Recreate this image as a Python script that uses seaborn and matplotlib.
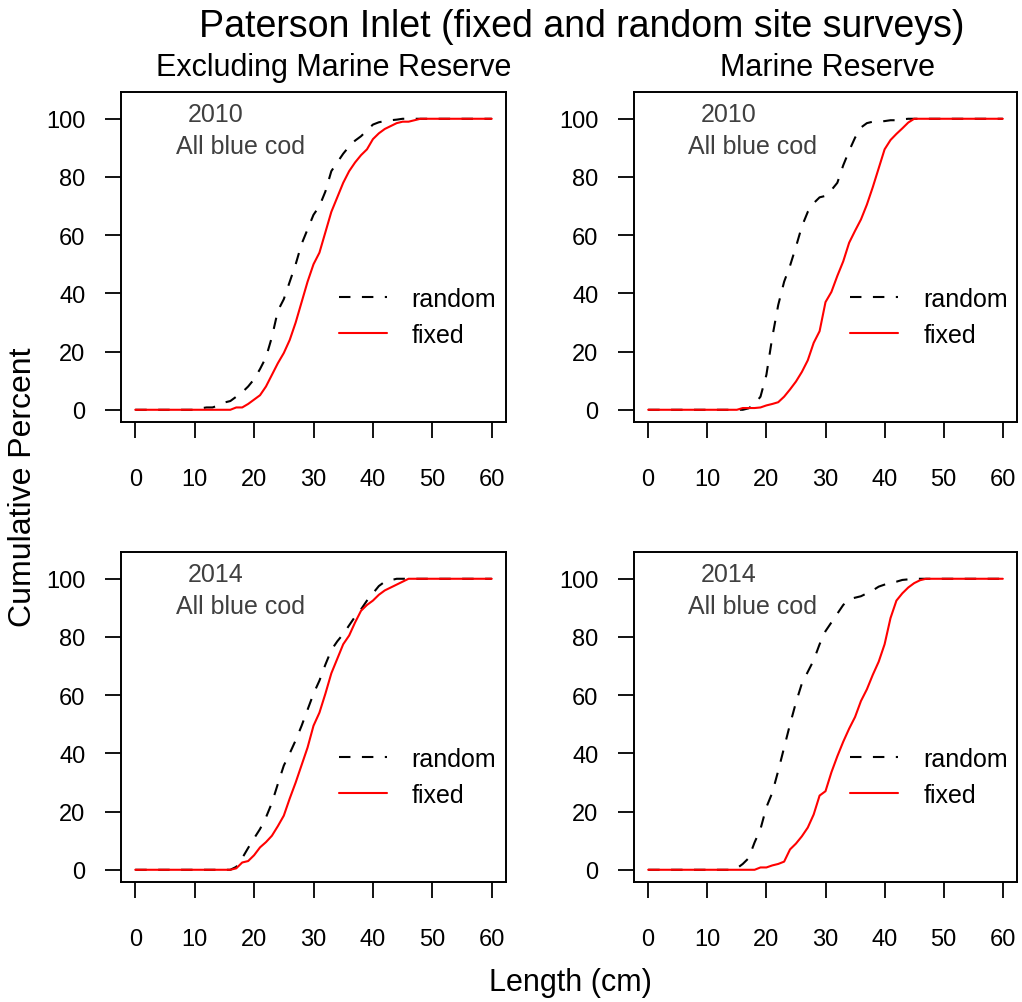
import matplotlib
matplotlib.use('Agg')
import matplotlib.pyplot as plt
import seaborn as sns

# Length classes (cm)
length = list(range(61))

# Excluding Marine Reserve, 2010
exc2010_random = [0, 0, 0, 0, 0, 0, 0, 0, 0, 0, 0,
                  0.5, 0.8, 0.8, 1.5, 2.5, 3, 4.5, 6, 8, 10.5,
                  14, 18, 25, 34, 38, 44, 50, 57, 62, 67,
                  70, 75, 82, 85, 88, 90.5, 92.5, 94, 96, 98,
                  98.8, 99.2, 99.5, 99.7, 100, 100, 100, 100, 100, 100,
                  100, 100, 100, 100, 100, 100, 100, 100, 100, 100]
exc2010_fixed = [0, 0, 0, 0, 0, 0, 0, 0, 0, 0, 0,
                 0, 0, 0, 0, 0, 0, 0.8, 0.8, 2, 3.5,
                 5, 8, 12, 16, 19.5, 24, 30, 37, 44, 50,
                 54, 61, 68, 73, 78, 82, 85, 87.5, 89.5, 93,
                 95, 96.5, 97.5, 98.5, 99, 99, 99.5, 100, 100, 100,
                 100, 100, 100, 100, 100, 100, 100, 100, 100, 100]

# Marine Reserve, 2010
mr2010_random = [0, 0, 0, 0, 0, 0, 0, 0, 0, 0, 0,
                 0, 0, 0, 0, 0, 0, 0.5, 2, 4.5, 12,
                 25, 36, 44, 49.5, 56, 63, 68, 71, 73, 73.5,
                 75.5, 78, 84, 89, 93.5, 97, 98.5, 99, 99, 99.2,
                 99.5, 99.5, 99.8, 100, 100, 100, 100, 100, 100, 100,
                 100, 100, 100, 100, 100, 100, 100, 100, 100, 100]
mr2010_fixed = [0, 0, 0, 0, 0, 0, 0, 0, 0, 0, 0,
                0, 0, 0, 0, 0, 0.6, 0.6, 0.6, 0.8, 1.5,
                2, 2.6, 4.5, 7, 9.7, 13, 17, 23, 27, 37,
                40.5, 46, 51, 57.4, 61.5, 65.4, 70.5, 76.5, 83, 89.5,
                92.7, 94.8, 96.7, 98.7, 100, 100, 100, 100, 100, 100,
                100, 100, 100, 100, 100, 100, 100, 100, 100, 100]

# Excluding Marine Reserve, 2014
exc2014_random = [0, 0, 0, 0, 0, 0, 0, 0, 0, 0, 0,
                  0, 0, 0, 0, 0, 0, 1, 4, 7.5, 10.8,
                  14, 18, 23, 29.5, 35.8, 40, 44.5, 49.5, 55, 60.5,
                  65, 70.5, 75.5, 78.5, 81, 84, 87, 89.5, 92.5, 95,
                  97.5, 99, 99.5, 100, 100, 100, 100, 100, 100, 100,
                  100, 100, 100, 100, 100, 100, 100, 100, 100, 100]
exc2014_fixed = [0, 0, 0, 0, 0, 0, 0, 0, 0, 0, 0,
                 0, 0, 0, 0, 0, 0, 0.5, 2.5, 3, 5,
                 7.7, 9.5, 11.7, 15, 18.6, 24.5, 30, 36, 42, 49.5,
                 54, 60.5, 67.5, 72.5, 77.5, 80.5, 85, 89, 91, 92.5,
                 94.5, 96, 97, 98, 99, 100, 100, 100, 100, 100,
                 100, 100, 100, 100, 100, 100, 100, 100, 100, 100]

# Marine Reserve, 2014
mr2014_random = [0, 0, 0, 0, 0, 0, 0, 0, 0, 0, 0,
                 0, 0, 0, 0, 0.5, 2, 4, 9.4, 14, 21.5,
                 26.5, 34, 42, 50, 57.5, 64, 68, 72, 77.5, 82,
                 85, 88, 91, 93, 93.5, 94, 95, 96, 97.3, 98,
                 98.6, 99, 99.6, 99.8, 100, 100, 100, 100, 100, 100,
                 100, 100, 100, 100, 100, 100, 100, 100, 100, 100]
mr2014_fixed = [0, 0, 0, 0, 0, 0, 0, 0, 0, 0, 0,
                0, 0, 0, 0, 0, 0, 0, 0, 0.8, 0.8,
                1.5, 2, 2.8, 7, 9, 11.5, 14.5, 19, 25.5, 27,
                33.5, 39, 44, 48.5, 52.5, 58, 62, 67, 71.5, 77.5,
                86.5, 92.5, 95, 97, 98.5, 99.5, 100, 100, 100, 100,
                100, 100, 100, 100, 100, 100, 100, 100, 100, 100]

years = ['2010', '2010', '2014', '2014']
panel_random = [exc2010_random, mr2010_random, exc2014_random, mr2014_random]
panel_fixed = [exc2010_fixed, mr2010_fixed, exc2014_fixed, mr2014_fixed]
column_titles = ['Excluding Marine Reserve', 'Marine Reserve']

sns.set_style('ticks')
plt.rcParams['font.family'] = ['Liberation Sans', 'DejaVu Sans']
plt.rcParams['text.color'] = 'black'
plt.rcParams['xtick.color'] = 'black'
plt.rcParams['ytick.color'] = 'black'

W, H = 1022, 1003
fig = plt.figure(figsize=(W / 100, H / 100), dpi=100)

# axes boxes in pixels: (left, top, right, bottom)
boxes = [(121, 93, 506, 423), (634, 93, 1017, 423),
         (121, 553, 506, 883), (634, 553, 1017, 883)]

for i, (l, t, r, b) in enumerate(boxes):
    ax = fig.add_axes([l / W, 1 - b / H, (r - l) / W, (b - t) / H])
    sns.lineplot(x=length, y=panel_random[i], ax=ax, color='black',
                 linewidth=1.5, label='random')
    ax.lines[-1].set_dashes((5.5, 5.5))
    sns.lineplot(x=length, y=panel_fixed[i], ax=ax, color='red',
                 linewidth=1.5, label='fixed')
    ax.set_xlim(-2.4, 62.4)
    ax.set_ylim(-4.2, 109.2)
    ax.set_xticks(range(0, 61, 10))
    ax.set_yticks(range(0, 101, 20))
    ax.tick_params(direction='out', length=11.5, width=1.3, labelsize=17,
                   colors='black', bottom=True, left=True)
    ax.tick_params(axis='x', pad=21.5)
    ax.tick_params(axis='y', pad=14)
    for sp in ax.spines.values():
        sp.set_visible(True)
        sp.set_linewidth(1.4)
        sp.set_color('black')
    ax.set_xlabel('')
    ax.set_ylabel('')
    ax.text(13.6, 99.1, years[i], ha='center', va='baseline',
            fontsize=18, color='#404040')
    ax.text(17.7, 88.3, 'All blue cod', ha='center', va='baseline',
            fontsize=18, color='#404040')
    leg = ax.legend(loc='upper left', bbox_to_anchor=(0.565, 0.41),
                    frameon=False, fontsize=18, handlelength=1.92,
                    handletextpad=1.0, labelspacing=0.5, borderpad=0,
                    borderaxespad=0)
    for txt in leg.get_texts():
        txt.set_color('black')

fig.text(582 / W, 1 - 27 / H, 'Paterson Inlet (fixed and random site surveys)',
         ha='center', va='center', fontsize=27)
fig.text(334 / W, 1 - 68 / H, column_titles[0], ha='center', va='center',
         fontsize=22)
fig.text(828 / W, 1 - 68 / H, column_titles[1], ha='center', va='center',
         fontsize=22)
fig.text(23 / W, 1 - 487 / H, 'Cumulative Percent', ha='center',
         va='center', rotation=90, fontsize=23)
fig.text(570 / W, 1 - 983 / H, 'Length (cm)', ha='center', va='center',
         fontsize=22)

fig.savefig('out.png', dpi=100)
